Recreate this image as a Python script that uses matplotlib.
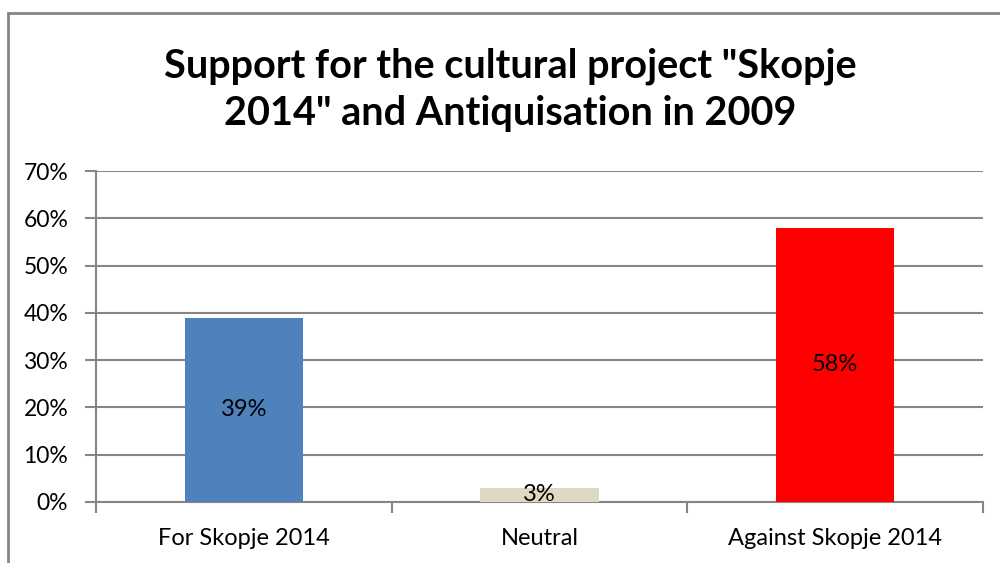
import matplotlib
matplotlib.use("Agg")
import matplotlib.pyplot as plt
from matplotlib.patches import Rectangle
from matplotlib.ticker import PercentFormatter

# Survey results, share of respondents (%)
categories = ["For Skopje 2014", "Neutral", "Against Skopje 2014"]
shares = [39, 3, 58]
bar_colors = ["#4f81bd", "#ddd9c3", "#ff0000"]
y_ticks = [0, 10, 20, 30, 40, 50, 60, 70]

title = 'Support for the cultural project "Skopje\n2014" and Antiquisation in 2009'

GRAY = "#868686"
plt.rcParams["font.family"] = ["Lato", "DejaVu Sans"]

fig = plt.figure(figsize=(10, 5.63), dpi=100)
ax = fig.add_axes([0.096, 1 - 502 / 563, 0.887, (502 - 171) / 563])

x = range(len(categories))
bars = ax.bar(x, shares, width=0.4, color=bar_colors, zorder=3)
for rect, val in zip(bars, shares):
    ax.text(rect.get_x() + rect.get_width() / 2, val / 2, f"{val}%",
            ha="center", va="center", fontsize=17, color="black", zorder=4)

ax.set_xlim(-0.5, len(categories) - 0.5)
ax.set_ylim(0, 70)
ax.set_yticks(y_ticks)
ax.yaxis.set_major_formatter(PercentFormatter(decimals=0))
ax.set_xticks(list(x))
ax.set_xticklabels(categories)
ax.set_xticks([-0.5, 0.5, 1.5, 2.5], minor=True)

ax.grid(axis="y", color=GRAY, linewidth=1.5, zorder=0)
for side in ("top", "right"):
    ax.spines[side].set_visible(False)
for side in ("left", "bottom"):
    ax.spines[side].set_color(GRAY)
    ax.spines[side].set_linewidth(1.5)

ax.tick_params(axis="y", length=8, width=1.5, color=GRAY, labelsize=16.5, pad=12)
ax.tick_params(axis="x", which="major", length=0, labelsize=17, pad=19)
ax.tick_params(axis="x", which="minor", length=8, width=1.5, color=GRAY)

fig.text(0.51, 1 - 90 / 563, title, ha="center", va="center",
         fontsize=28.5, fontweight="bold", linespacing=1.35)

# chart frame, running off the right and bottom edges
top = 1 - 13 / 563
fig.patches.append(Rectangle((0.008, -0.1), 1.2, top + 0.1,
                             transform=fig.transFigure, fill=False,
                             edgecolor=GRAY, linewidth=2))

fig.savefig("out.png", dpi=100, facecolor="white")
